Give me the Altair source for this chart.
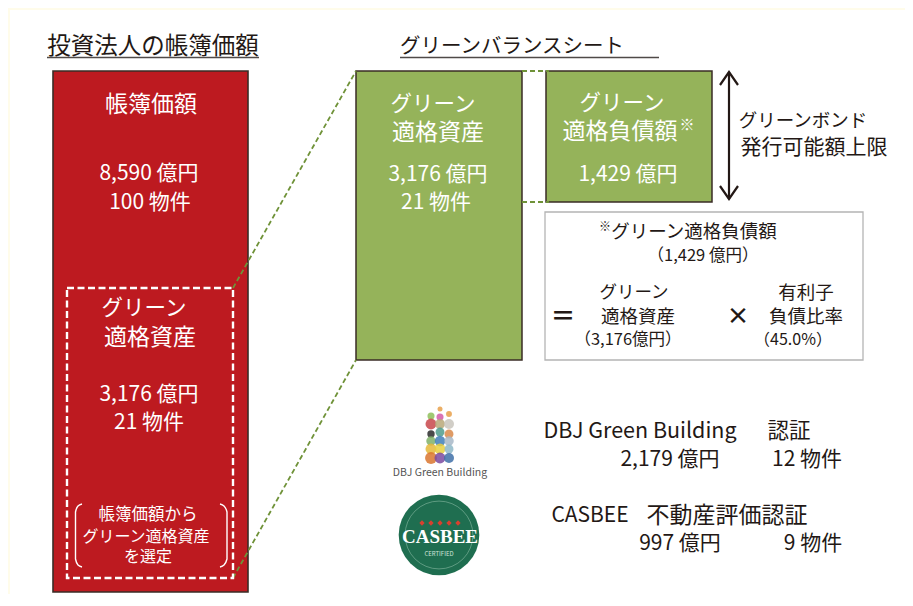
import altair as alt
import pandas as pd

W, H = 897, 586
XD = [8, 8 + W]
YD = [8, 8 + H]
FONT = "Noto Sans CJK JP"
DARK = "#231815"
RED = "#bd1a20"
GREEN = "#95b35a"
EDGE = "#3a2c26"
DASHG = "#6f9238"
CREAM = "#fffcea"

# x0, x1, y0, y1, fill, stroke, strokeWidth
rects = [
    (8, 905, 8, 10, CREAM, CREAM, 0),
    (8, 10, 8, 594, CREAM, CREAM, 0),
    (53, 248, 71, 592, RED, EDGE, 1.6),
    (356, 522, 71, 360, GREEN, EDGE, 1.5),
    (546, 712, 71, 202, GREEN, EDGE, 1.5),
    (545, 863, 212, 360, "#ffffff", "#b4b4b4", 1.3),
]

white_dash_box = [(67, 288), (233, 288), (233, 578), (67, 578), (67, 288)]
green_dashes = [
    [(233, 288), (356, 71)],
    [(233, 578), (356, 360)],
    [(522, 71), (549, 71)],
    [(522, 202), (549, 202)],
]
solid_lines = [
    ([(47, 57.5), (259, 57.5)], "#4f4a48", 1.6),
    ([(400, 57.5), (659, 57.5)], "#4f4a48", 1.4),
    ([(729, 72), (729, 199)], DARK, 2.2),
    ([(720, 85), (729, 72), (738, 85)], DARK, 2.2),
    ([(720, 186), (729, 199), (738, 186)], DARK, 2.2),
]
parens = [
    [(82, 504), (78, 506), (75.5, 512), (75.5, 559), (78, 565), (82, 567)],
    [(220, 504), (224, 506), (227, 512), (227, 559), (224, 565), (220, 567)],
]

# text, cx, cy, size, color
labels = [
    ("投資法人の帳簿価額", 153, 47, 23.5, DARK),
    ("グリーンバランスシート", 512, 47, 20.5, DARK),
    ("帳簿価額", 151, 105, 23, "#ffffff"),
    ("8,590 億円", 149, 173.5, 21, "#ffffff"),
    ("100 物件", 150, 202.5, 21, "#ffffff"),
    ("グリーン", 144, 309, 21.5, "#ffffff"),
    ("適格資産", 150, 338, 23, "#ffffff"),
    ("3,176 億円", 149, 394.5, 21, "#ffffff"),
    ("21 物件", 149, 422.5, 21, "#ffffff"),
    ("帳簿価額から", 148, 515, 16.5, "#ffffff"),
    ("グリーン適格資産", 146, 537, 16, "#ffffff"),
    ("を選定", 148, 557, 16, "#ffffff"),
    ("グリーン", 433, 105, 21.5, "#ffffff"),
    ("適格資産", 438, 133, 23, "#ffffff"),
    ("3,176 億円", 438, 174.5, 21, "#ffffff"),
    ("21 物件", 436, 202.5, 21, "#ffffff"),
    ("グリーン", 622, 104, 21.5, "#ffffff"),
    ("適格負債額", 620, 132, 23, "#ffffff"),
    ("1,429 億円", 628, 174.5, 21, "#ffffff"),
    ("グリーンボンド", 803, 121, 18.5, DARK),
    ("発行可能額上限", 814, 148, 21, DARK),
    ("グリーン適格負債額", 694, 232, 18.5, DARK),
    ("（1,429 億円）", 703, 256, 16.5, DARK),
    ("グリーン", 634, 293, 17.5, DARK),
    ("適格資産", 638, 317, 18.5, DARK),
    ("（3,176億円）", 628, 340, 16.5, DARK),
    ("有利子", 806, 293, 18.5, DARK),
    ("負債比率", 806, 317, 18.5, DARK),
    ("（45.0%）", 793, 340, 16, DARK),
    ("DBJ Green Building", 640, 432, 21.5, DARK),
    ("認証", 789, 432, 21.5, DARK),
    ("2,179 億円", 670, 459.5, 21, DARK),
    ("12 物件", 807, 459.5, 21, DARK),
    ("CASBEE", 590, 515.5, 21, DARK),
    ("不動産評価認証", 727, 515.5, 23, DARK),
    ("997 億円", 680, 543.5, 21, DARK),
    ("9 物件", 813, 543.5, 21, DARK),
]

# DBJ logo dots: x, y, size, color
dbj_dots = [
    (440, 409, 25, "#e8a04a"),
    (431, 416, 50, "#8fbf5a"), (440, 417, 50, "#d45aa8"), (449, 414, 35, "#e8a04a"),
    (431, 424, 120, "#c8464a"), (440, 424, 100, "#b9a878"), (449, 424, 100, "#c9c6bd"),
    (431, 434, 55, "#2a2a2a"), (440, 432, 80, "#4f9c8c"), (449, 434, 80, "#d98a4a"),
    (431, 441, 90, "#7fb069"), (440, 441, 110, "#3f7fb8"), (449, 441, 90, "#a8b8c8"),
    (431, 449, 120, "#e5b93a"), (440, 449, 120, "#e8d040"), (449, 449, 80, "#8fb8c8"),
    (431, 458, 140, "#d9752f"), (440, 458, 120, "#7b4aa0"), (449, 458, 100, "#3f70a8"),
]
star_xs = [422, 431, 440, 449, 458]

# text, cx, cy, size, color, weight, font
styled_labels = [
    ("※", 687, 125, 15, "#ffffff", "bold", FONT),
    ("※", 605, 227, 12, DARK, "normal", FONT),
    ("＝", 563, 317, 25, DARK, "bold", FONT),
    ("×", 738, 317, 23, DARK, "bold", FONT),
    ("DBJ Green Building", 440, 473, 10.5, "#555555", "normal", FONT),
    ("CASBEE", 440, 537, 19, "#ffffff", "bold", "Liberation Serif"),
    ("CERTIFIED", 439, 554, 6, "#cfe3d8", "normal", FONT),
]

x_scale = alt.Scale(domain=XD, range=[0, W], nice=False, zero=False)
y_scale = alt.Scale(domain=YD, range=[0, H], nice=False, zero=False)
X = alt.X("x:Q", scale=x_scale, axis=None)
Y = alt.Y("y:Q", scale=y_scale, axis=None)


def lines(paths, color, width, dash=None, interpolate="linear"):
    rows = [
        {"g": i, "o": j, "x": p[0], "y": p[1]}
        for i, path in enumerate(paths)
        for j, p in enumerate(path)
    ]
    kw = {"color": color, "strokeWidth": width, "interpolate": interpolate}
    if dash:
        kw["strokeDash"] = dash
    return alt.Chart(pd.DataFrame(rows)).mark_line(**kw).encode(
        x=X, y=Y, detail="g:N", order="o:Q"
    )


rect_df = pd.DataFrame(rects, columns=["x", "x1", "y", "y1", "fill", "stroke", "sw"])
rect_layer = alt.Chart(rect_df).mark_rect().encode(
    x=X,
    x2="x1:Q",
    y=Y,
    y2="y1:Q",
    fill=alt.Fill("fill:N", scale=None),
    stroke=alt.Stroke("stroke:N", scale=None),
    strokeWidth=alt.StrokeWidth("sw:Q", scale=None),
)

text_df = pd.DataFrame(labels, columns=["t", "x", "y", "s", "c"])
text_layer = alt.Chart(text_df).mark_text(font=FONT, baseline="middle", align="center").encode(
    x=X,
    y=Y,
    text="t:N",
    size=alt.Size("s:Q", scale=None),
    color=alt.Color("c:N", scale=None),
)

dots_df = pd.DataFrame(dbj_dots, columns=["x", "y", "s", "c"])
dots_layer = alt.Chart(dots_df).mark_circle(opacity=0.85).encode(
    x=X,
    y=Y,
    size=alt.Size("s:Q", scale=None),
    color=alt.Color("c:N", scale=None),
)

seal = alt.Chart(pd.DataFrame({"x": [439], "y": [535]})).mark_circle(
    size=6500, color="#1f6e50", opacity=1
).encode(x=X, y=Y)
ring = alt.Chart(pd.DataFrame({"x": [439], "y": [535]})).mark_point(
    size=4600, color="#8fbfa8", strokeWidth=0.8, filled=False, opacity=0.7
).encode(x=X, y=Y)
stars = alt.Chart(pd.DataFrame({"x": star_xs, "y": [523] * len(star_xs)})).mark_point(
    shape="diamond", size=28, filled=True, color="#d8402f", opacity=1
).encode(x=X, y=Y)

styled_layers = []
for t, x, y, s, c, w, f in styled_labels:
    styled_layers.append(
        alt.Chart(pd.DataFrame({"t": [t], "x": [x], "y": [y]}))
        .mark_text(font=f, fontSize=s, color=c, fontWeight=w, baseline="middle", align="center")
        .encode(x=X, y=Y, text="t:N")
    )

solid = [lines([p], c, w) for p, c, w in solid_lines]

chart = alt.layer(
    rect_layer,
    lines(green_dashes, DASHG, 1.8, [5, 3]),
    lines([white_dash_box], "#ffffff", 2.4, [7, 3.5]),
    *solid,
    lines(parens, "#ffffff", 1.4, interpolate="monotone"),
    dots_layer,
    seal,
    ring,
    stars,
    text_layer,
    *styled_layers,
).properties(
    width=W,
    height=H,
    padding=0,
    autosize=alt.AutoSizeParams(type="none"),
    background="#ffffff",
).configure_view(stroke=None)

chart.save("out.html", embed_options={"renderer": "svg", "actions": False})
